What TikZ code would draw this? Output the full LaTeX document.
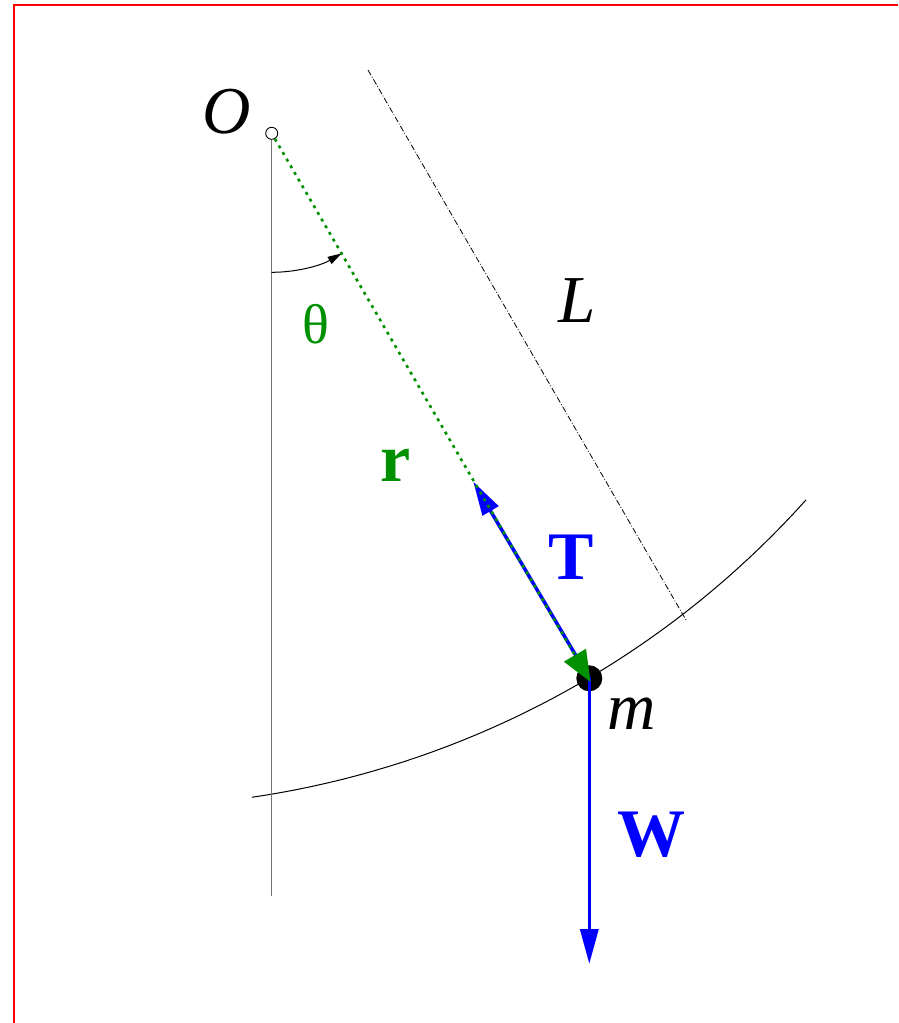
\documentclass[tikz,border=0pt]{standalone}
\usepackage{fontspec}
\setmainfont{Liberation Serif}
\usetikzlibrary{arrows.meta}
\definecolor{figgreen}{RGB}{0,144,0}
\begin{document}
\begin{tikzpicture}[x=1pt,y=-1pt,
  lbl/.style={inner sep=0pt, anchor=center},
  bigit/.style={lbl, font=\fontsize{67}{70}\selectfont\itshape},
  bigbf/.style={lbl, font=\fontsize{68}{72}\selectfont\bfseries},
  force/.style={blue, line width=3.5pt},
  thin/.style={black, line width=1pt}]
\useasboundingbox (0,0) rectangle (898,1023);
\draw[red, line width=2pt] (898,4.5) -- (14,4.5) -- (14,1023);
% swing arc
\draw[thin] plot[domain=41.9:81.65, samples=150, variable=\t]
  ({117.6+925*cos(\t)},{-117.9+925*sin(\t)});
% dash-dot length line
\coordinate (La) at (368,70);
\coordinate (Lb) at (686,620);
\draw[black, line width=0.8pt, dash pattern=on 6pt off 2pt on 0.8pt off 2pt] (La) -- (Lb);
% pivot
\node[circle, draw, fill=white, minimum size=12pt, inner sep=0pt, line width=0.9pt] (O) at (271.7,133.3) {};
\coordinate (vend) at (271.7,896);
\draw[black!55, line width=1.5pt] (O.south) -- (vend);
% angle arc
\coordinate (th0) at (271.7,272.3);
\draw[thin, -{Triangle[length=14pt,width=8pt]}] (th0) arc[start angle=-90, end angle=-59.8, radius=139pt];
% mass
\node[circle, fill=black, minimum size=26pt, inner sep=0pt] (M) at (589.3,678.3) {};
% forces
\coordinate (Ttip) at (473.3,481.7);
\draw[force, -{Triangle[length=34pt,width=18pt]}] (M.center) -- (Ttip);
\coordinate (Wtip) at (589.3,964);
\draw[force, -{Triangle[length=35pt,width=18pt]}] (M.center) -- (Wtip);
% position vector
\coordinate (Gtip) at (590.5,682);
\draw[figgreen, line width=2.6pt, dash pattern=on 3pt off 4.7pt, -{Triangle[length=31pt,width=25pt]}] (O) -- (Gtip);
% labels
\node[bigit] (Olab) at (227,112) {O};
\node[lbl, text=figgreen, font=\fontsize{56}{60}\selectfont] (thlab) at (315.5,324) {θ};
\node[bigit] (Llab) at (577.5,301) {L};
\node[bigbf, text=figgreen] (rlab) at (396,465) {r};
\node[bigbf, text=blue] (Tlab) at (571.5,557.5) {T};
\node[bigit] (mlab) at (631.5,713.5) {m};
\node[bigbf, text=blue] (Wlab) at (651.5,834.5) {W};
\end{tikzpicture}
\end{document}
